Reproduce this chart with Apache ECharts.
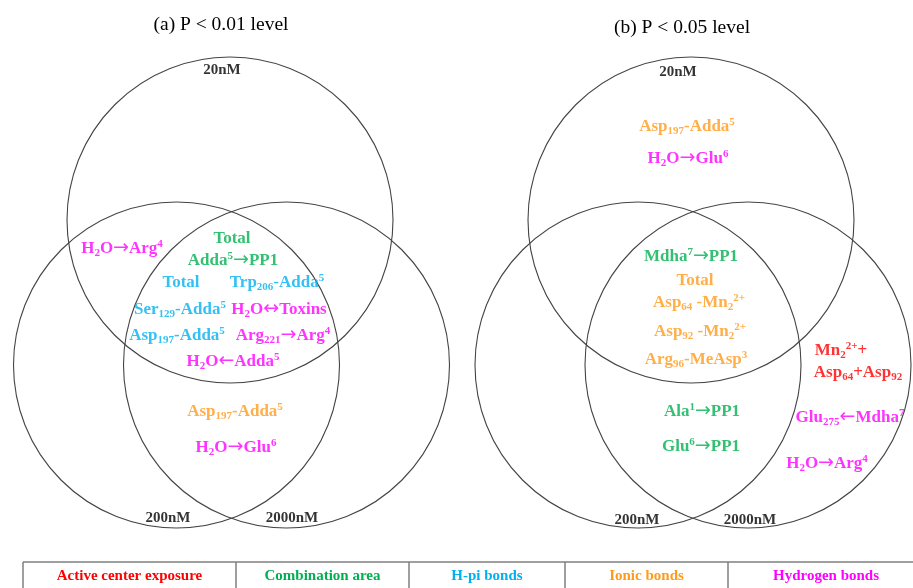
<!DOCTYPE html>
<html>
<head>
<meta charset="utf-8">
<script src="https://cdn.jsdelivr.net/npm/echarts@6/dist/echarts.min.js"></script>
<style>
  html, body { margin: 0; padding: 0; background: #fff; }
  #chart { width: 913px; height: 588px; }
</style>
</head>
<body>
<div id="chart"></div>
<script>
// Panel titles
const panelTitles = ['(a) P < 0.01 level', '(b) P < 0.05 level'];

// Concentration sets (one circle each) for both significance levels: [cx, cy, r]
const setNames = ['20nM', '200nM', '2000nM'];
const circlesA = [[230, 220, 163], [176.5, 365, 163], [286.5, 365, 163]];
const circlesB = [[691, 220, 163], [638, 365, 163], [748, 365, 163]];
const setLabelsA = [[222, 70], [168, 518], [292, 518]];
const setLabelsB = [[678, 72], [637, 520], [750, 520]];

// Interaction categories (legend row)
const groups = ['Active center exposure', 'Combination area', 'H-pi bonds', 'Ionic bonds', 'Hydrogen bonds'];

// Interactions placed in each Venn region: [x, y, text, group index]
// markup: _{..} subscript, ^{..} superscript
const itemsA = [
  [122, 249, 'H_{2}O→Arg^{4}', 4],
  [232, 239, 'Total', 1],
  [233, 261, 'Adda^{5}→PP1', 1],
  [181, 283, 'Total', 2],
  [277, 283, 'Trp_{206}-Adda^{5}', 2],
  [180, 310, 'Ser_{129}-Adda^{5}', 2],
  [279, 310, 'H_{2}O↔Toxins', 4],
  [177, 336, 'Asp_{197}-Adda^{5}', 2],
  [283, 336, 'Arg_{221}→Arg^{4}', 4],
  [233, 362, 'H_{2}O←Adda^{5}', 4],
  [235, 412, 'Asp_{197}-Adda^{5}', 3],
  [236, 448, 'H_{2}O→Glu^{6}', 4]
];
const itemsB = [
  [687, 127, 'Asp_{197}-Adda^{5}', 3],
  [688, 159, 'H_{2}O→Glu^{6}', 4],
  [691, 257, 'Mdha^{7}→PP1', 1],
  [695, 281, 'Total', 3],
  [699, 303, 'Asp_{64} -Mn_{2}^{2+}', 3],
  [700, 332, 'Asp_{92} -Mn_{2}^{2+}', 3],
  [696, 360, 'Arg_{96}-MeAsp^{3}', 3],
  [841, 351, 'Mn_{2}^{2+}+', 0],
  [858, 373, 'Asp_{64}+Asp_{92}', 0],
  [702, 412, 'Ala^{1}→PP1', 1],
  [701, 447, 'Glu^{6}→PP1', 1],
  [850, 418, 'Glu_{275}←Mdha^{7}', 4],
  [827, 464, 'H_{2}O→Arg^{4}', 4]
];

// ---- styling / layout ----
const groupColors = ['#ff0000', '#00b050', '#00b0f0', '#ff9a1a', '#ff00ff'];
const serif = '"Liberation Serif", "Times New Roman", serif';
const W = 913, H = 588;
const tableTop = 562;
const cellEdges = [23, 236, 409, 565, 728, 924];

// Convert the sub/superscript markup into ECharts rich text tokens
function toRich(s) {
  return s.split(/(_\{[^}]*\}|\^\{[^}]*\}|[→←↔])/).filter(Boolean).map(p => {
    if (p[0] === '_') return '{sub|' + p.slice(2, -1) + '}';
    if (p[0] === '^') return '{sup|' + p.slice(2, -1) + '}';
    if ('→←↔'.includes(p)) return '{arr|' + p + '}';
    return '{b|' + p + '}';
  }).join('');
}
const richStyles = {
  b: { fontFamily: serif, fontWeight: 'bold', fontSize: 17, lineHeight: 22, verticalAlign: 'middle' },
  arr: { fontFamily: '"DejaVu Sans", sans-serif', fontWeight: 'normal', fontSize: 19, lineHeight: 22, verticalAlign: 'middle', padding: [0, 0, 2, 0] },
  sub: { fontFamily: serif, fontWeight: 'bold', fontSize: 11, lineHeight: 22, verticalAlign: 'bottom', padding: [0, 0, 1, 0] },
  sup: { fontFamily: serif, fontWeight: 'bold', fontSize: 11, lineHeight: 22, verticalAlign: 'top', padding: [1, 0, 0, 0] }
};

const circleSeries = (circles) => ({
  type: 'custom',
  coordinateSystem: 'cartesian2d',
  silent: true,
  data: circles,
  renderItem(params, api) {
    const c = api.coord([api.value(0), api.value(1)]);
    const r = api.size([api.value(2), 0])[0];
    return {
      type: 'circle',
      shape: { cx: c[0], cy: c[1], r: r },
      style: { fill: 'none', stroke: '#444', lineWidth: 1.1 }
    };
  }
});

const setLabelSeries = (pos) => ({
  type: 'scatter',
  symbolSize: 0,
  silent: true,
  data: pos.map((p, i) => ({ value: p, name: setNames[i] })),
  label: {
    show: true, position: 'inside', formatter: '{b}',
    fontFamily: serif, fontWeight: 'bold', fontSize: 15, color: '#000'
  }
});

const itemSeries = groups.map((g, gi) => ({
  type: 'scatter',
  name: g,
  symbolSize: 0,
  silent: true,
  data: itemsA.concat(itemsB).filter(d => d[3] === gi)
    .map(d => ({ value: [d[0], d[1]], name: d[2] })),
  label: {
    show: true, position: 'inside', color: groupColors[gi],
    formatter: p => toRich(p.name),
    rich: richStyles
  }
}));

// Legend table: frame lines and category names
const tableSeries = {
  type: 'custom',
  coordinateSystem: 'cartesian2d',
  silent: true,
  data: groups.map((g, i) => [cellEdges[i], cellEdges[i + 1], i]),
  renderItem(params, api) {
    const i = api.value(2);
    const a = api.coord([api.value(0), tableTop]);
    const b = api.coord([api.value(1), H]);
    const lineStyle = { stroke: '#7f7f7f', lineWidth: 1.5 };
    return {
      type: 'group',
      children: [
        { type: 'line', shape: { x1: a[0], y1: a[1], x2: b[0], y2: a[1] }, style: lineStyle },
        { type: 'line', shape: { x1: a[0], y1: a[1], x2: a[0], y2: b[1] + 5 }, style: lineStyle },
        { type: 'text', style: {
            x: (a[0] + b[0]) / 2, y: a[1] + 14,
            text: groups[i], fill: groupColors[i], align: 'center', verticalAlign: 'middle',
            font: 'bold 15px ' + serif } }
      ]
    };
  }
};

const chart = echarts.init(document.getElementById('chart'), null, { renderer: 'canvas' });
chart.setOption({
  backgroundColor: '#fff',
  animation: false,
  title: [
    { text: panelTitles[0], left: 221, top: 15, textAlign: 'center', padding: 0,
      textStyle: { fontFamily: serif, fontWeight: 'normal', fontSize: 19.5, color: '#000' } },
    { text: panelTitles[1], left: 682, top: 18, textAlign: 'center', padding: 0,
      textStyle: { fontFamily: serif, fontWeight: 'normal', fontSize: 19.5, color: '#000' } }
  ],
  grid: { left: 0, right: 0, top: 0, bottom: 0 },
  xAxis: { type: 'value', min: 0, max: W, show: false },
  yAxis: { type: 'value', min: 0, max: H, inverse: true, show: false },
  series: [
    circleSeries(circlesA),
    circleSeries(circlesB),
    setLabelSeries(setLabelsA),
    setLabelSeries(setLabelsB),
    ...itemSeries,
    tableSeries
  ]
});
</script>
</body>
</html>
